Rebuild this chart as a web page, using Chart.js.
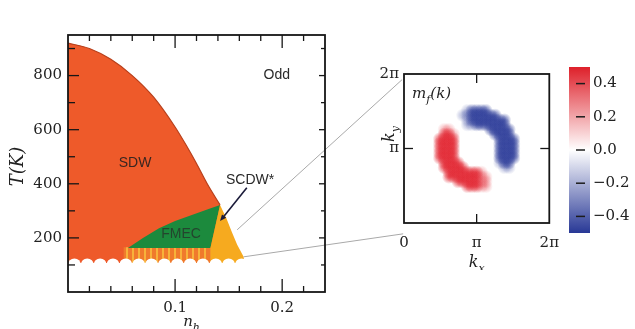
<!DOCTYPE html>
<html>
<head>
<meta charset="utf-8">
<title>Phase diagram</title>
<script src="https://cdn.jsdelivr.net/npm/chart.js@4.4.1/dist/chart.umd.min.js"></script>
<style>
  html, body { margin: 0; padding: 0; background: #fff; }
  #wrap { position: relative; width: 635px; height: 329px; overflow: hidden; }
  #wrap canvas { position: absolute; }
</style>
</head>
<body>
<div id="wrap">
  <canvas id="phase" width="635" height="329" style="left:0;top:0"></canvas>
  <canvas id="inset" width="200" height="210" style="left:370px;top:60px"></canvas>
  <canvas id="cbar" width="75" height="190" style="left:560px;top:55px"></canvas>
</div>
<script>
// ---- phase diagram, n_h vs T(K) ----
const domeX = [0, 0.02, 0.04, 0.06, 0.08, 0.10, 0.11, 0.12, 0.13, 0.142];
const domeT = [920, 900, 860, 800, 720, 610, 545, 475, 400, 322];
const fmecX = [0.056, 0.07, 0.085, 0.10, 0.115, 0.13, 0.142, 0.133];
const fmecT = [163, 200, 236, 262, 284, 305, 322, 163];
const scdwX = [0.142, 0.148, 0.153, 0.158, 0.164, 0.165, 0.133, 0.133];
const scdwT = [322, 272, 222, 175, 130, 100, 100, 163];
const hatchX = [0.052, 0.133, 0.133, 0.052];
const hatchT = [165, 165, 100, 100];
const floorX = [0, 0.17];
const floorT = [107, 107];
const scallopX = [0.006, 0.018, 0.030, 0.042, 0.054, 0.066, 0.078, 0.090, 0.102, 0.114, 0.126, 0.138, 0.150, 0.162];
const scallopT = 100;
// lines from the SCDW* tip out to the inset corners
const zoomAX = [0.158, 0.312], zoomAT = [230, 785];
const zoomBX = [0.164, 0.313], zoomBT = [130, 215];

const xTicks = [0.1, 0.2];
const xMinor = [0.02, 0.04, 0.06, 0.08, 0.12, 0.14, 0.16, 0.18, 0.22];
const yTicks = [200, 400, 600, 800];
const yMinor = [100, 300, 500, 700, 900];

const regionNames = ['SDW', 'Odd', 'SCDW*', 'FMEC'];
const regionAt = [[0.0626, 477], [0.195, 803], [0.170, 415], [0.1056, 215]];
const arrowFrom = [0.167, 385];
const arrowTo = [0.142, 262];

// ---- inset m_f(k), rows from k_y high to low, cols k_x low to high ----
const kTicks = [0, Math.PI, 2 * Math.PI];
const kTickLabels = ['0', 'π', '2π'];
const heatStep = 0.2;
const heatRows = [
  '...................',
  '.......bBBBB.......',
  '......bbBBBBBB.....',
  '.......bBBBBBBBB...',
  '.......bbBBBBBBB...',
  '..rr........BBBBB..',
  '..RRr........BBBB..',
  '.RRRR.........BBBB.',
  '.RRRR.........BBBB.',
  '.RRRR.........BBBB.',
  '.RRRR.........BBBB.',
  '.RRRR.........BBBB.',
  '..RRRR........bBB..',
  '..RRRRR........bb..',
  '...RRRRRRRr........',
  '...RRRRRRRrr.......',
  '.....RRRRRrr.......',
  '.......RRRrr.......',
  '...................'
];
const heatLevels = { '.': 0, 'r': 0.22, 'R': 0.47, 'b': -0.22, 'B': -0.47 };
const cbarTicks = [-0.4, -0.2, 0, 0.2, 0.4];

Chart.defaults.font.family = '"DejaVu Serif", serif';
Chart.defaults.color = '#222';

const pts = (xs, ys) => xs.map((x, i) => ({ x, y: ys[i] }));

function stroke(ctx, x1, y1, x2, y2) {
  ctx.beginPath(); ctx.moveTo(x1, y1); ctx.lineTo(x2, y2); ctx.stroke();
}

// italic serif text with subscripts: parts = [[text, isSub], ...]
function subLabel(ctx, parts, x, y, size, align) {
  const fontOf = s => `italic ${s ? Math.round(size * 0.7) : size}px "DejaVu Serif"`;
  let w = 0;
  parts.forEach(([t, s]) => { ctx.font = fontOf(s); w += ctx.measureText(t).width; });
  let cx = align === 'center' ? x - w / 2 : x;
  ctx.textAlign = 'left';
  parts.forEach(([t, s]) => {
    ctx.font = fontOf(s);
    ctx.fillText(t, cx, s ? y + size * 0.3 : y);
    cx += ctx.measureText(t).width;
  });
}

const HEAT_R = 7;
// each cell is a soft blob; alpha carries |v| so the blend over white follows the colour bar
function heatColor(c) {
  const chart = c.chart;
  const v = c.raw.v;
  const rgb = v > 0 ? '225,30,42' : '38,54,150';
  const a = Math.min(1, Math.abs(v) / 0.5 * 0.7);
  const px = chart.scales.x.getPixelForValue(c.raw.x);
  const py = chart.scales.y.getPixelForValue(c.raw.y);
  if (!isFinite(px) || !isFinite(py)) return `rgba(${rgb},${a.toFixed(3)})`;
  const g = chart.ctx.createRadialGradient(px, py, 0, px, py, HEAT_R);
  g.addColorStop(0, `rgba(${rgb},${a.toFixed(3)})`);
  g.addColorStop(0.45, `rgba(${rgb},${(a * 0.7).toFixed(3)})`);
  g.addColorStop(1, `rgba(${rgb},0)`);
  return g;
}

function hatchPattern() {
  const c = document.createElement('canvas');
  c.width = 6; c.height = 6;
  const g = c.getContext('2d');
  g.fillStyle = '#f07a2c'; g.fillRect(0, 0, 6, 6);
  g.fillStyle = '#f7b23a'; g.fillRect(0, 0, 2, 6);
  return document.getElementById('phase').getContext('2d').createPattern(c, 'repeat');
}

const phaseDecor = {
  id: 'phaseDecor',
  afterDatasetsDraw(chart) {
    const { ctx, chartArea: a, scales: { x, y } } = chart;
    ctx.save();
    ctx.strokeStyle = '#161616';
    ctx.lineWidth = 1.3;
    const tickX = (v, len) => {
      const px = x.getPixelForValue(v);
      stroke(ctx, px, a.bottom, px, a.bottom - len);
      stroke(ctx, px, a.top, px, a.top + len);
    };
    const tickY = (v, lenL, lenR) => {
      const py = y.getPixelForValue(v);
      stroke(ctx, a.left, py, a.left + lenL, py);
      stroke(ctx, a.right, py, a.right - lenR, py);
    };
    xTicks.forEach(v => tickX(v, 13));
    xMinor.forEach(v => tickX(v, 6));
    yTicks.forEach(v => tickY(v, 11, 6));
    yMinor.forEach(v => tickY(v, 7, 4));
    ctx.lineWidth = 1.8;
    ctx.strokeRect(a.left, a.top, a.width, a.height);

    ctx.font = '14px "Liberation Sans", sans-serif';
    ctx.textAlign = 'center';
    ctx.textBaseline = 'middle';
    regionNames.forEach((n, i) => {
      ctx.fillStyle = n === 'FMEC' ? '#24452e' : (n === 'SDW' ? '#3b2620' : '#2a2a2a');
      ctx.fillText(n, x.getPixelForValue(regionAt[i][0]), y.getPixelForValue(regionAt[i][1]));
    });

    // arrow SCDW* -> yellow wedge
    const x1 = x.getPixelForValue(arrowFrom[0]), y1 = y.getPixelForValue(arrowFrom[1]);
    const x2 = x.getPixelForValue(arrowTo[0]), y2 = y.getPixelForValue(arrowTo[1]);
    const ang = Math.atan2(y2 - y1, x2 - x1);
    ctx.strokeStyle = '#1b1b3a';
    ctx.fillStyle = '#1b1b3a';
    ctx.lineWidth = 1.6;
    stroke(ctx, x1, y1, x2 - 4 * Math.cos(ang), y2 - 4 * Math.sin(ang));
    ctx.beginPath();
    ctx.moveTo(x2, y2);
    ctx.lineTo(x2 - 7 * Math.cos(ang - 0.4), y2 - 7 * Math.sin(ang - 0.4));
    ctx.lineTo(x2 - 7 * Math.cos(ang + 0.4), y2 - 7 * Math.sin(ang + 0.4));
    ctx.closePath();
    ctx.fill();

    // axis titles
    ctx.fillStyle = '#222';
    ctx.textBaseline = 'alphabetic';
    ctx.save();
    ctx.translate(a.left - 45, (a.top + a.bottom) / 2 + 3);
    ctx.rotate(-Math.PI / 2);
    ctx.font = 'italic 18px "DejaVu Serif"';
    ctx.textAlign = 'center';
    ctx.fillText('T(K)', 0, 0);
    ctx.restore();
    subLabel(ctx, [['n', false], ['h', true]], (a.left + a.right) / 2 - 5, a.bottom + 34, 15, 'center');
    ctx.restore();
  }
};

new Chart(document.getElementById('phase'), {
  type: 'line',
  data: {
    datasets: [
      { label: 'zoom-a', data: pts(zoomAX, zoomAT), borderColor: '#a9a9a9', borderWidth: 1, fill: false, clip: false, order: 0 },
      { label: 'zoom-b', data: pts(zoomBX, zoomBT), borderColor: '#a9a9a9', borderWidth: 1, fill: false, clip: false, order: 0 },
      { label: 'scallops', data: scallopX.map(x => ({ x, y: scallopT })), showLine: false,
        pointRadius: 6.5, pointBackgroundColor: '#fff', pointBorderColor: 'transparent', pointBorderWidth: 0, order: 1 },
      { label: 'floor', data: pts(floorX, floorT), borderColor: 'transparent', fill: 'start', backgroundColor: '#fff', order: 2 },
      { label: 'SCDW*', data: pts(scdwX, scdwT), borderColor: 'transparent', fill: 'shape', backgroundColor: '#f6aa1f', order: 3 },
      { label: 'FMEC', data: pts(fmecX, fmecT), borderColor: 'transparent', fill: 'shape', backgroundColor: '#1c8a3d', order: 4 },
      { label: 'hatch', data: pts(hatchX, hatchT), borderColor: 'transparent', fill: 'shape', backgroundColor: hatchPattern(), order: 5 },
      { label: 'SDW', data: pts(domeX, domeT), borderColor: '#b8401c', borderWidth: 1.2, fill: 'start',
        backgroundColor: '#ee5a2a', cubicInterpolationMode: 'monotone', order: 6 }
    ]
  },
  options: {
    responsive: false,
    animation: false,
    layout: { padding: { top: 35, right: 310, left: 0, bottom: 0 } },
    plugins: { legend: { display: false }, tooltip: { enabled: false } },
    elements: { point: { radius: 0 }, line: { tension: 0 } },
    scales: {
      x: {
        type: 'linear', min: 0, max: 0.24,
        grid: { display: false, drawTicks: false }, border: { display: false },
        afterBuildTicks: s => { s.ticks = xTicks.map(v => ({ value: v })); },
        ticks: { padding: 7, maxRotation: 0, autoSkip: false, font: { size: 15 },
                 callback: v => v.toFixed(1) },
        afterFit: s => { s.height = 37; }
      },
      y: {
        type: 'linear', min: 0, max: 950,
        grid: { display: false, drawTicks: false }, border: { display: false },
        afterBuildTicks: s => { s.ticks = yTicks.map(v => ({ value: v })); },
        ticks: { padding: 6, autoSkip: false, font: { size: 15 }, callback: v => String(v) },
        afterFit: s => { s.width = 68; }
      }
    }
  },
  plugins: [phaseDecor]
});

// ---- inset heat map ----
const heatPts = [];
heatRows.forEach((row, r) => {
  const j = (heatRows.length - 1) / 2 - r;
  [...row].forEach((ch, c) => {
    const v = heatLevels[ch];
    if (!v) return;
    const i = c - (row.length - 1) / 2;
    heatPts.push({ x: Math.PI + i * heatStep, y: Math.PI + j * heatStep, v });
  });
});

const kLabel = v => kTickLabels[kTicks.findIndex(t => Math.abs(t - v) < 1e-9)] || '';

const insetDecor = {
  id: 'insetDecor',
  afterDatasetsDraw(chart) {
    const { ctx, chartArea: a, scales: { x, y } } = chart;
    ctx.save();
    ctx.strokeStyle = '#161616';
    ctx.lineWidth = 1.3;
    const px = x.getPixelForValue(Math.PI), py = y.getPixelForValue(Math.PI);
    stroke(ctx, px, a.top, px, a.top + 9);
    stroke(ctx, px, a.bottom, px, a.bottom - 9);
    stroke(ctx, a.left, py, a.left + 9, py);
    stroke(ctx, a.right, py, a.right - 9, py);
    ctx.lineWidth = 1.8;
    ctx.strokeRect(a.left, a.top, a.width, a.height);

    ctx.fillStyle = '#222';
    subLabel(ctx, [['m', false], ['f', true], ['(k)', false]], a.left + 8, a.top + 24, 15, 'left');
    subLabel(ctx, [['k', false], ['x', true]], (a.left + a.right) / 2, a.bottom + 44, 16, 'center');
    ctx.save();
    ctx.translate(a.left - 10, a.top + 60);
    ctx.rotate(-Math.PI / 2);
    subLabel(ctx, [['k', false], ['y', true]], 0, 0, 16, 'center');
    ctx.restore();
    ctx.restore();
  }
};

new Chart(document.getElementById('inset'), {
  type: 'line',
  data: {
    datasets: [{
      data: heatPts, showLine: false, pointStyle: 'circle', pointRadius: HEAT_R,
      pointBackgroundColor: c => heatColor(c), pointBorderColor: 'transparent', pointBorderWidth: 0
    }]
  },
  options: {
    responsive: false,
    animation: false,
    layout: { padding: { top: 14, right: 18, left: 0, bottom: 0 } },
    plugins: { legend: { display: false }, tooltip: { enabled: false } },
    scales: {
      x: {
        type: 'linear', min: 0, max: 2 * Math.PI,
        grid: { display: false, drawTicks: false }, border: { display: false },
        afterBuildTicks: s => { s.ticks = kTicks.map(v => ({ value: v })); },
        ticks: { padding: 11, maxRotation: 0, autoSkip: false, font: { size: 15 }, callback: v => kLabel(v) },
        afterFit: s => { s.height = 47; }
      },
      y: {
        type: 'linear', min: 0, max: 2 * Math.PI,
        grid: { display: false, drawTicks: false }, border: { display: false },
        afterBuildTicks: s => { s.ticks = kTicks.slice(1).map(v => ({ value: v })); },
        ticks: { padding: 5, autoSkip: false, font: { size: 15 }, callback: v => kLabel(v) },
        afterFit: s => { s.width = 34; }
      }
    }
  },
  plugins: [insetDecor]
});

// ---- colour bar ----
const cbarDecor = {
  id: 'cbarDecor',
  afterDatasetsDraw(chart) {
    const { ctx, chartArea: a, scales: { y } } = chart;
    ctx.save();
    ctx.strokeStyle = '#1c1c1c';
    ctx.lineWidth = 1.5;
    cbarTicks.forEach(v => {
      const py = y.getPixelForValue(v);
      stroke(ctx, a.left + 7, py, a.right - 5, py);
    });
    ctx.restore();
  }
};

new Chart(document.getElementById('cbar'), {
  type: 'bar',
  data: {
    labels: ['m'],
    datasets: [{
      data: [[-0.5, 0.5]],
      barPercentage: 1, categoryPercentage: 1, borderWidth: 0,
      backgroundColor: c => {
        const a = c.chart.chartArea;
        if (!a) return '#fff';
        const g = c.chart.ctx.createLinearGradient(0, a.top, 0, a.bottom);
        g.addColorStop(0, 'rgb(222,32,42)');
        g.addColorStop(0.5, '#ffffff');
        g.addColorStop(1, 'rgb(40,56,150)');
        return g;
      }
    }]
  },
  options: {
    responsive: false,
    animation: false,
    layout: { padding: { top: 9, left: 9, bottom: 12, right: 0 } },
    plugins: { legend: { display: false }, tooltip: { enabled: false } },
    scales: {
      x: { display: false },
      y: {
        position: 'right', min: -0.5, max: 0.5,
        grid: { display: false, drawTicks: false }, border: { display: false },
        afterBuildTicks: s => { s.ticks = cbarTicks.map(v => ({ value: v })); },
        ticks: { padding: 3, autoSkip: false, font: { size: 15 },
                 callback: v => (v < -1e-9 ? '−' : '') + Math.abs(v).toFixed(1) },
        afterFit: s => { s.width = 45; }
      }
    }
  },
  plugins: [cbarDecor]
});
</script>
</body>
</html>
